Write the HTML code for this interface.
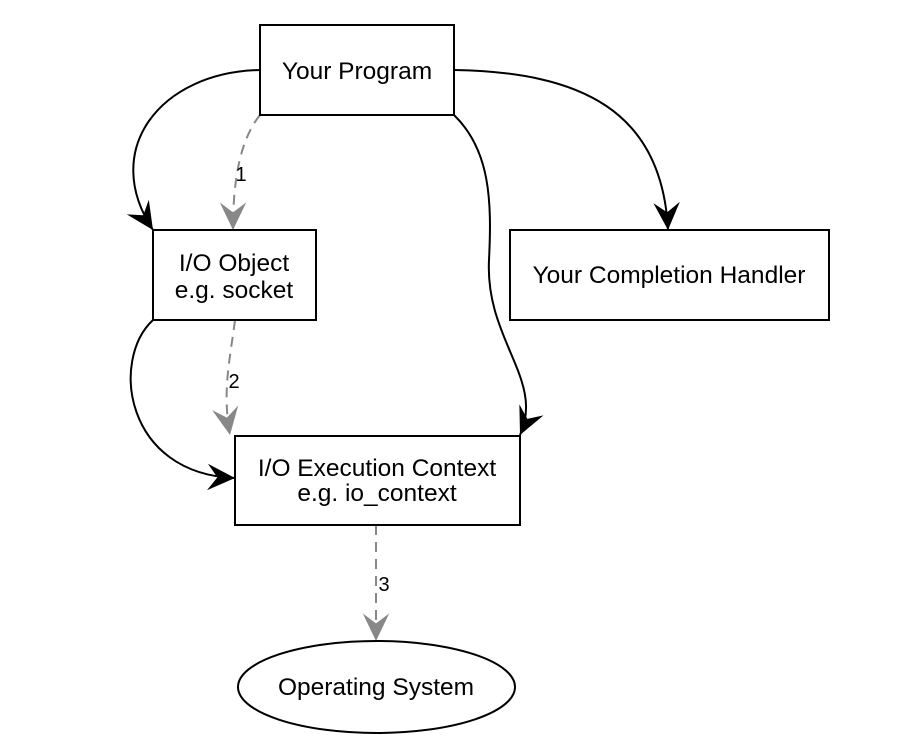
<!DOCTYPE html>
<html><head><meta charset="utf-8"><style>html,body{margin:0;padding:0;background:#fff}svg{display:block}</style></head>
<body>
<svg width="900" height="746" viewBox="0 0 900 746" xmlns="http://www.w3.org/2000/svg" font-family="Liberation Sans, Arial, sans-serif">
<defs>
<marker id="ab" markerUnits="userSpaceOnUse" markerWidth="32" markerHeight="32" viewBox="-27 -13 29 26" refX="0" refY="0" orient="auto">
<path d="M0,0 L-25,-12 L-16,0 L-25,12 Z" fill="#000"/></marker>
<marker id="ag" markerUnits="userSpaceOnUse" markerWidth="32" markerHeight="32" viewBox="-27 -13 29 26" refX="0" refY="0" orient="auto">
<path d="M0,0 L-25,-12 L-16,0 L-25,12 Z" fill="#888"/></marker>
</defs>
<g fill="none" stroke="#000" stroke-width="2">
<path d="M260,70 C160,72 100,150 153,230" marker-end="url(#ab)"/>
<path d="M454,115 C490,150 492,200 489,260 C485,340 545,380 520,435" marker-end="url(#ab)"/>
<path d="M454,70 C580,72 662,110 668,230" marker-end="url(#ab)"/>
<path d="M153,320 C110,360 125,474 235,478" marker-end="url(#ab)"/>
</g>
<g fill="none" stroke="#888" stroke-width="2" stroke-dasharray="10,7">
<path d="M260,115 C240,140 233,180 233,230" marker-end="url(#ag)"/>
<path d="M235,320 C230,360 222,390 230,435" marker-end="url(#ag)"/>
<path d="M376,525 L376,641" marker-end="url(#ag)"/>
</g>
<g fill="#fff" stroke="#000" stroke-width="2">
<rect x="260" y="25" width="194" height="90"/>
<rect x="153" y="230" width="163" height="90"/>
<rect x="510" y="230" width="319" height="90"/>
<rect x="235" y="436" width="285" height="89"/>
<ellipse cx="376.5" cy="687" rx="138.5" ry="46"/>
</g>
<g font-size="24.5" fill="#000" text-anchor="middle">
<text x="357" y="79">Your Program</text>
<text x="234" y="271">I/O Object</text>
<text x="234" y="298">e.g. socket</text>
<text x="669" y="283">Your Completion Handler</text>
<text x="377" y="476">I/O Execution Context</text>
<text x="377" y="501">e.g. io_context</text>
<text x="376" y="695">Operating System</text>
<text x="241" y="181" font-size="20">1</text>
<text x="234" y="388" font-size="20">2</text>
<text x="384" y="591" font-size="20">3</text>
</g>
</svg>
</body></html>
